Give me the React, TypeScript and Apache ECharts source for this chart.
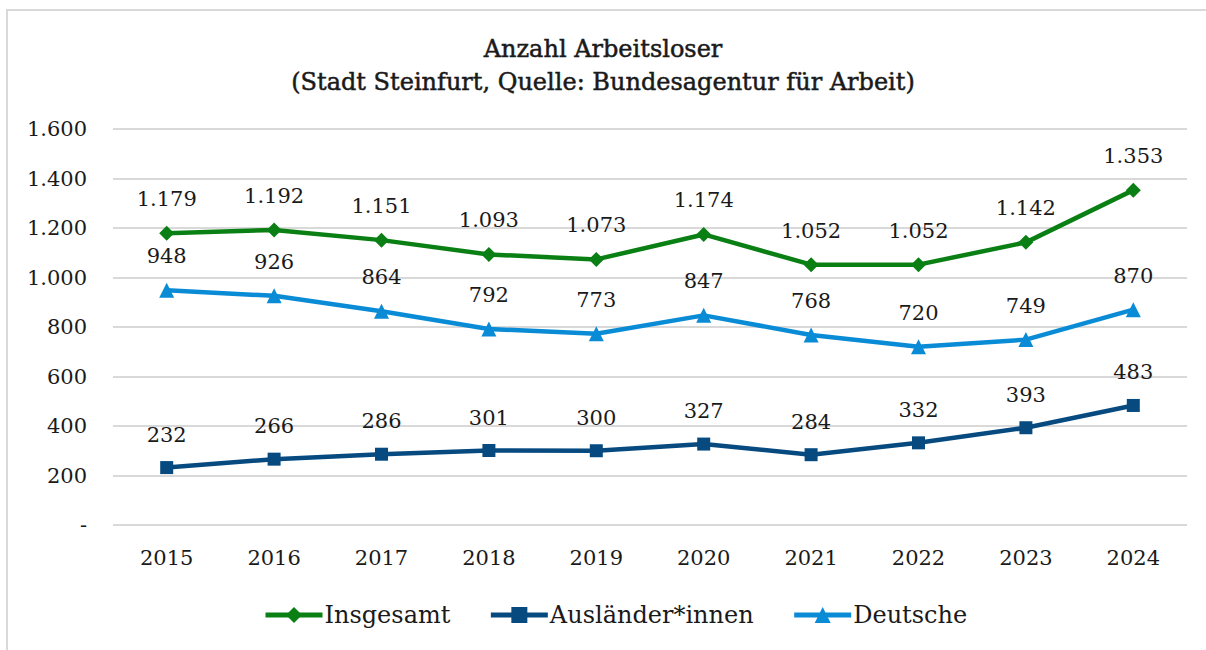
import React, { useEffect, useRef } from "react";
import * as echarts from "echarts";

const years = ["2015", "2016", "2017", "2018", "2019", "2020", "2021", "2022", "2023", "2024"];
const insgesamt = [1179, 1192, 1151, 1093, 1073, 1174, 1052, 1052, 1142, 1353];
const auslaender = [232, 266, 286, 301, 300, 327, 284, 332, 393, 483];
const deutsche = [948, 926, 864, 792, 773, 847, 768, 720, 749, 870];

const FONT = "DejaVu Serif";
const fmt = (v: number) => (v === 0 ? "-" : v.toLocaleString("de-DE"));

export default function App() {
  const ref = useRef<HTMLDivElement>(null);
  useEffect(() => {
    const chart = echarts.init(ref.current!, null, { renderer: "svg" });
    const label = {
      show: true,
      position: "top" as const,
      distance: 16,
      fontFamily: FONT,
      fontSize: 21,
      color: "#1a1a1a",
      formatter: (p: any) => fmt(p.value),
    };
    const mk = (name: string, data: number[], color: string, symbol: string, size: number) => ({
      name,
      type: "line",
      data,
      symbol,
      symbolSize: size,
      lineStyle: { color, width: 4.5 },
      itemStyle: { color },
      label,
    });
    chart.setOption({
      animation: false,
      backgroundColor: "#fff",
      textStyle: { fontFamily: FONT },
      graphic: [
        {
          type: "rect",
          shape: { x: 7, y: 10, width: 1220, height: 660 },
          style: { fill: "none", stroke: "#d9d9d9", lineWidth: 2 },
          silent: true,
        },
      ],
      title: {
        text: "Anzahl Arbeitsloser\n(Stadt Steinfurt, Quelle: Bundesagentur für Arbeit)",
        left: "center",
        top: 27,
        textStyle: {
          fontFamily: FONT,
          fontSize: 24,
          fontWeight: "normal",
          color: "#1a1a1a",
          lineHeight: 33,
          textBorderColor: "#1a1a1a",
          textBorderWidth: 0.5,
        },
      },
      grid: { left: 113, right: 19, top: 129, bottom: 125 },
      xAxis: {
        type: "category",
        data: years,
        boundaryGap: true,
        axisLine: { show: false },
        axisTick: { show: false },
        axisLabel: { fontFamily: FONT, fontSize: 21, color: "#1a1a1a", margin: 22 },
      },
      yAxis: {
        type: "value",
        min: 0,
        max: 1600,
        interval: 200,
        axisLine: { show: false },
        axisTick: { show: false },
        splitLine: { lineStyle: { color: "#d9d9d9", width: 2 } },
        axisLabel: { fontFamily: FONT, fontSize: 21, color: "#1a1a1a", margin: 26, formatter: (v: number) => fmt(v) },
      },
      legend: {
        bottom: 18,
        left: 258,
        itemWidth: 57,
        itemHeight: 20,
        itemGap: 38,
        lineStyle: { width: 5 },
        textStyle: { fontFamily: FONT, fontSize: 24, color: "#1a1a1a", padding: [0, 0, 0, -3] },
        data: ["Insgesamt", "Ausländer*innen", "Deutsche"],
      },
      series: [
        mk("Insgesamt", insgesamt, "#0a8014", "diamond", 15),
        mk("Ausländer*innen", auslaender, "#064a80", "rect", 13),
        mk("Deutsche", deutsche, "#0a8bd6", "triangle", 15),
      ],
    });
    return () => chart.dispose();
  }, []);
  return <div ref={ref} style={{ position: "fixed", left: 0, top: 0, width: 1206, height: 650 }} />;
}
